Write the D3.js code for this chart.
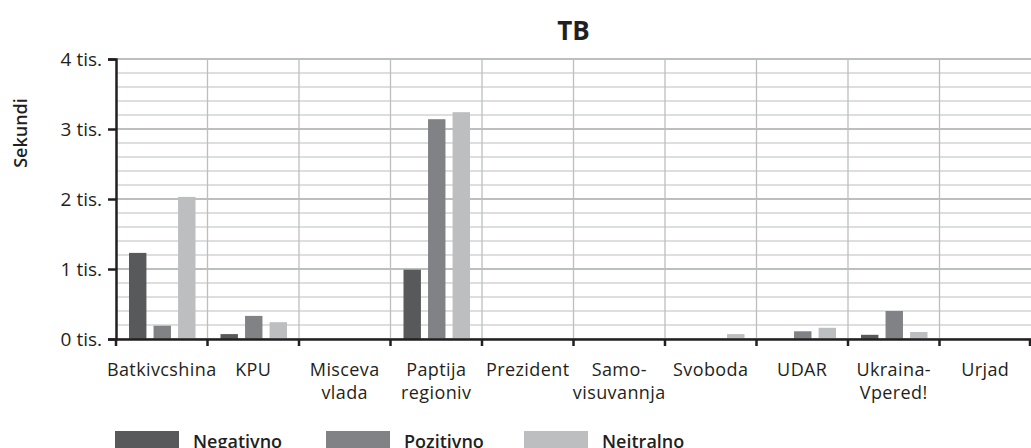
<!DOCTYPE html>
<html>
<head>
<meta charset="utf-8">
<script src="https://cdn.jsdelivr.net/npm/d3@7"></script>
<style>
  body { margin: 0; background: #fff; }
  text { font-family: "Open Sans", sans-serif; fill: #231f20; }
</style>
</head>
<body>
<svg id="chart" width="1031" height="448"></svg>
<script>
// data
var categories = ["Batkivcshina", "KPU", "Misceva vlada", "Paptija regioniv", "Prezident", "Samo- visuvannja", "Svoboda", "UDAR", "Ukraina- Vpered!", "Urjad"];
var labelLines = [["Batkivcshina"], ["KPU"], ["Misceva", "vlada"], ["Paptija", "regioniv"], ["Prezident"], ["Samo-", "visuvannja"], ["Svoboda"], ["UDAR"], ["Ukraina-", "Vpered!"], ["Urjad"]];
var series = ["Negativno", "Pozitivno", "Nejtralno"];
var negativno = [1230, 70, 0, 990, 0, 0, 0, 0, 60, 0];
var pozitivno = [190, 330, 0, 3140, 0, 0, 0, 110, 400, 0];
var nejtralno = [2030, 240, 0, 3240, 0, 0, 70, 160, 100, 0];
var yTicks = [0, 1000, 2000, 3000, 4000];
var colors = ["#58595b", "#808285", "#bcbec0"];

var values = [negativno, pozitivno, nejtralno];

var svg = d3.select("#chart");
var mLeft = 116, mRight = 1031, mTop = 59, mBottom = 339;

var x = d3.scaleBand().domain(categories).range([mLeft, mRight]);
var xs = d3.scaleBand().domain(series).range([13, x.bandwidth() - 12]).paddingInner(0.29);
var y = d3.scaleLinear().domain([0, 4000]).range([mBottom, mTop]);

// horizontal grid, every 200
svg.append("g").selectAll("line")
    .data(d3.range(0, 4001, 200))
    .enter().append("line")
    .attr("x1", mLeft).attr("x2", mRight)
    .attr("y1", function(d) { return y(d); }).attr("y2", function(d) { return y(d); })
    .attr("stroke", "#bcbec0")
    .attr("stroke-width", function(d) { return d % 1000 === 0 ? 2.2 : 1.1; });

// vertical grid
svg.append("g").selectAll("line")
    .data(categories.slice(1))
    .enter().append("line")
    .attr("x1", function(d) { return x(d); }).attr("x2", function(d) { return x(d); })
    .attr("y1", mTop).attr("y2", mBottom)
    .attr("stroke", "#bcbec0").attr("stroke-width", 1.3);

// bars
var groups = svg.append("g").selectAll("g")
    .data(categories)
    .enter().append("g")
    .attr("transform", function(d) { return "translate(" + x(d) + ",0)"; });

groups.selectAll("rect")
    .data(function(d, i) { return series.map(function(s, j) { return { s: s, v: values[j][i], c: colors[j] }; }); })
    .enter().append("rect")
    .attr("x", function(d) { return xs(d.s); })
    .attr("width", xs.bandwidth())
    .attr("y", function(d) { return y(d.v); })
    .attr("height", function(d) { return mBottom - y(d.v); })
    .attr("fill", function(d) { return d.c; });

// y axis
var yAxis = svg.append("g")
    .attr("transform", "translate(" + mLeft + ",0)")
    .call(d3.axisLeft(y).tickValues(yTicks).tickSize(8).tickPadding(6)
        .tickFormat(function(d) { return (d / 1000) + " tis."; }));
yAxis.select(".domain").attr("stroke", "#231f20").attr("stroke-width", 2.5);
yAxis.selectAll(".tick line").attr("stroke", "#231f20").attr("stroke-width", 2.5);
yAxis.selectAll(".tick text").style("font-size", "19px").attr("fill", "#231f20");

// x axis
var xAxis = svg.append("g")
    .attr("transform", "translate(0," + mBottom + ")")
    .call(d3.axisBottom(x).tickSize(0).tickFormat(""));
xAxis.select(".domain").attr("stroke", "#231f20").attr("stroke-width", 2.5);
xAxis.selectAll(".tick").remove();

svg.append("g").selectAll("line")
    .data(categories.concat(["end"]))
    .enter().append("line")
    .attr("x1", function(d) { return d === "end" ? mRight - 1 : x(d); })
    .attr("x2", function(d) { return d === "end" ? mRight - 1 : x(d); })
    .attr("y1", mBottom).attr("y2", mBottom + 7)
    .attr("stroke", "#231f20").attr("stroke-width", 2.5);

// category labels
var lbl = svg.append("g").selectAll("text")
    .data(categories)
    .enter().append("text")
    .attr("text-anchor", "middle")
    .attr("y", 376)
    .style("font-size", "18px")
    .style("letter-spacing", "0.4px");
lbl.selectAll("tspan")
    .data(function(d, i) { return labelLines[i].map(function(t) { return { t: t, c: d }; }); })
    .enter().append("tspan")
    .attr("x", function(d) { return x(d.c) + x.bandwidth() / 2; })
    .attr("dy", function(d, i) { return i === 0 ? 0 : 23; })
    .text(function(d) { return d.t; });

// title
svg.append("text")
    .attr("x", (mLeft + mRight) / 2).attr("y", 40)
    .attr("text-anchor", "middle")
    .style("font-size", "26px").style("font-weight", "bold")
    .text("TB");

// y label
svg.append("text")
    .attr("transform", "translate(27,133) rotate(-90)")
    .attr("text-anchor", "middle")
    .style("font-size", "18px").style("font-weight", "600")
    .text("Sekundi");

// legend
var legendX = [115, 326, 524];
var leg = svg.append("g").selectAll("g")
    .data(series)
    .enter().append("g")
    .attr("transform", function(d, i) { return "translate(" + legendX[i] + ",431)"; });
leg.append("rect").attr("width", 64).attr("height", 20)
    .attr("fill", function(d, i) { return colors[i]; });
leg.append("text").attr("x", 78).attr("y", 17)
    .style("font-size", "18px").style("font-weight", "600")
    .text(function(d) { return d; });
</script>
</body>
</html>
